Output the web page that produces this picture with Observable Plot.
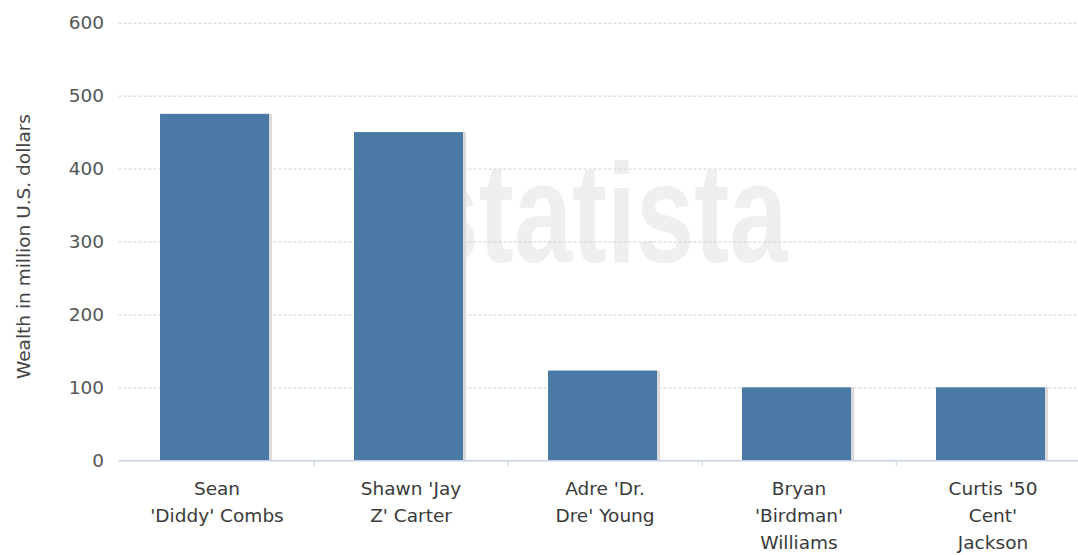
<!DOCTYPE html>
<html>
<head>
<meta charset="utf-8">
<script src="https://cdn.jsdelivr.net/npm/d3@7"></script>
<script src="https://cdn.jsdelivr.net/npm/@observablehq/plot@0.6"></script>
<style>
  html, body { margin: 0; padding: 0; overflow: hidden; background: #fff; }
  #chart svg { display: block; max-width: none !important; }
</style>
</head>
<body>
<div id="chart"></div>
<script>
const categories = ["Sean 'Diddy' Combs", "Shawn 'Jay Z' Carter", "Adre 'Dr. Dre' Young", "Bryan 'Birdman' Williams", "Curtis '50 Cent' Jackson"];
const tickLabels = ["Sean\n'Diddy' Combs", "Shawn 'Jay\nZ' Carter", "Adre 'Dr.\nDre' Young", "Bryan\n'Birdman'\nWilliams", "Curtis '50\nCent'\nJackson"];
const wealth = [475, 450, 123, 100, 100];
const yTicks = [0, 100, 200, 300, 400, 500, 600];
const yTitle = "Wealth in million U.S. dollars";
const watermark = "statista";

const data = categories.map((c, i) => ({name: c, value: wealth[i]}));
const labelOf = new Map(categories.map((c, i) => [c, tickLabels[i]]));

const W = 1092, H = 555;
const mL = 118.5, mR = 1, mT = 22.7, mB = 94.7;
const step = (W - mL - mR) / categories.length;

const font = "'DejaVu Sans', Verdana, sans-serif";

const chart = Plot.plot({
  width: W,
  height: H,
  marginLeft: mL,
  marginRight: mR,
  marginTop: mT,
  marginBottom: mB,
  style: {fontFamily: font, fontSize: "18.5px", color: "#555", background: "#fff", maxWidth: "none"},
  x: {domain: categories, paddingInner: 0.44, paddingOuter: 0.22, align: 0.5},
  y: {domain: [0, 600]},
  marks: [
    Plot.text([watermark], {frameAnchor: "top-left", dx: 668.5, dy: 238.3, textAnchor: "end", lineAnchor: "bottom",
      fontSize: 141, fontWeight: "bold", fontFamily: "'Liberation Sans', Arial, sans-serif", fill: "#efefef", className: "wm"}),
    Plot.gridY(yTicks.filter(d => d > 0), {stroke: "#cfcfcf", strokeOpacity: 1, strokeDasharray: "3,2"}),
    Plot.barY(data, {x: "name", y: "value", fill: "#dadada", dx: 1}),
    Plot.barY(data, {x: "name", y: "value", fill: "#4a79a5", dx: -2}),
    Plot.ruleY([0], {stroke: "#c3d1df", strokeWidth: 1.5}),
    Plot.axisY({ticks: yTicks, tickSize: 0, tickPadding: 15, fontSize: 18.5, fill: "#555", label: null}),
    Plot.text([yTitle], {frameAnchor: "left", dx: -(mL - 23.5), dy: 4.5, rotate: -90, textAnchor: "middle", lineAnchor: "middle",
      fontSize: 18.5, fill: "#444"}),
    Plot.axisX({tickSize: 0, tickPadding: 15, tickFormat: d => labelOf.get(d), lineHeight: 1.46,
      fill: "#3a3a3a", fontSize: 18.5, label: null}),
    Plot.axisX(categories.slice(0, -1), {tickSize: 6, tickFormat: () => "", dx: step / 2, stroke: "#c3d1df", label: null})
  ]
});
const wm = chart.querySelector(".wm text") || chart.querySelector("g.wm text");
if (wm) {
  wm.setAttribute("textLength", 367);
  wm.setAttribute("lengthAdjust", "spacingAndGlyphs");
}
document.getElementById("chart").appendChild(chart);
</script>
</body>
</html>
